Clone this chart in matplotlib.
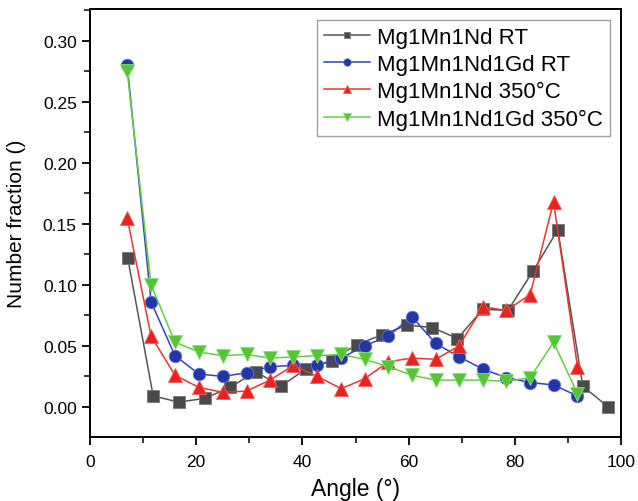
import numpy as np
import matplotlib
matplotlib.use("Agg")
import matplotlib.pyplot as plt
from matplotlib.ticker import MultipleLocator

plt.rcParams['font.family'] = ['Liberation Sans', 'DejaVu Sans']

# =========================
# DATA
# =========================
angle_nd = [7.1, 11.9, 16.7, 21.6, 26.4, 31.2, 35.9, 40.7, 45.5, 50.2,
            55.0, 59.7, 64.5, 69.2, 74.0, 78.7, 83.4, 88.1, 92.8, 97.6]
angle_gd = [7.0, 11.5, 16.0, 20.5, 25.0, 29.5, 33.9, 38.3, 42.8, 47.3,
            51.7, 56.2, 60.6, 65.1, 69.5, 74.0, 78.4, 82.9, 87.3, 91.8]

nd_rt = [0.122, 0.009, 0.004, 0.007, 0.016, 0.029, 0.017, 0.031, 0.038, 0.051,
         0.059, 0.067, 0.065, 0.056, 0.080, 0.079, 0.111, 0.145, 0.017, 0.000]
gd_rt = [0.280, 0.086, 0.042, 0.027, 0.025, 0.028, 0.033, 0.034, 0.034, 0.040,
         0.050, 0.058, 0.074, 0.052, 0.041, 0.031, 0.024, 0.020, 0.018, 0.009]
nd_350 = [0.155, 0.058, 0.026, 0.016, 0.012, 0.013, 0.022, 0.034, 0.025, 0.015,
          0.023, 0.037, 0.040, 0.039, 0.050, 0.082, 0.079, 0.092, 0.168, 0.033]
gd_350 = [0.275, 0.100, 0.053, 0.045, 0.042, 0.043, 0.040, 0.041, 0.042, 0.043,
          0.039, 0.033, 0.026, 0.022, 0.022, 0.022, 0.021, 0.024, 0.053, 0.011]

labels = ["Mg1Mn1Nd RT", "Mg1Mn1Nd1Gd RT", "Mg1Mn1Nd 350°C", "Mg1Mn1Nd1Gd 350°C"]

# =========================
# PLOT
# =========================
fig = plt.figure(figsize=(6.38, 5.02), dpi=100)
ax = fig.add_axes([90 / 638, 64 / 502, 531 / 638, 428 / 502])

ax.plot(angle_nd, nd_rt, color="#555555", lw=1.1, marker="s", ms=8,
        mfc="#4a4a4a", mec="#777777", mew=0.6, label=labels[0])
ax.plot(angle_gd, gd_rt, color="#3344bb", lw=1.1, marker="o", ms=9,
        mfc="#2236a8", mec="#6677cc", mew=0.6, label=labels[1])
ax.plot(angle_gd, nd_350, color="#ee3333", lw=1.1, marker="^", ms=10,
        mfc="#e8231e", mec="#f06060", mew=0.6, label=labels[2])
ax.plot(angle_gd, gd_350, color="#66cc44", lw=1.1, marker="v", ms=10,
        mfc="#55c435", mec="#88dd77", mew=0.6, label=labels[3])

ax.set_xlim(0, 100)
ax.set_ylim(-0.0246, 0.3258)
ax.xaxis.set_major_locator(MultipleLocator(20))
ax.xaxis.set_minor_locator(MultipleLocator(10))
ax.yaxis.set_major_locator(MultipleLocator(0.05))
ax.yaxis.set_minor_locator(MultipleLocator(0.025))
ax.yaxis.set_major_formatter(matplotlib.ticker.FormatStrFormatter("%.2f"))

ax.tick_params(which="major", direction="out", length=6, width=1.3,
               labelsize=12.5, top=False, right=False)
ax.tick_params(axis="x", which="major", pad=6)
ax.tick_params(which="minor", direction="out", length=4, width=1.1,
               top=False, right=False)
for s in ax.spines.values():
    s.set_linewidth(1.4)

ax.set_xlabel("Angle (°)", fontsize=16.5, labelpad=6)
ax.set_ylabel("Number fraction ()", fontsize=15, labelpad=12)

leg = ax.legend(loc="upper left", fontsize=16, frameon=True, fancybox=False,
                edgecolor="#888888", handlelength=2.1, handletextpad=0.3,
                borderpad=0.3, labelspacing=0.28, markerscale=0.6,
                borderaxespad=0, bbox_to_anchor=(227 / 531, 1 - 11 / 428))
leg.get_frame().set_linewidth(1.0)

fig.savefig("out.png", dpi=100)
